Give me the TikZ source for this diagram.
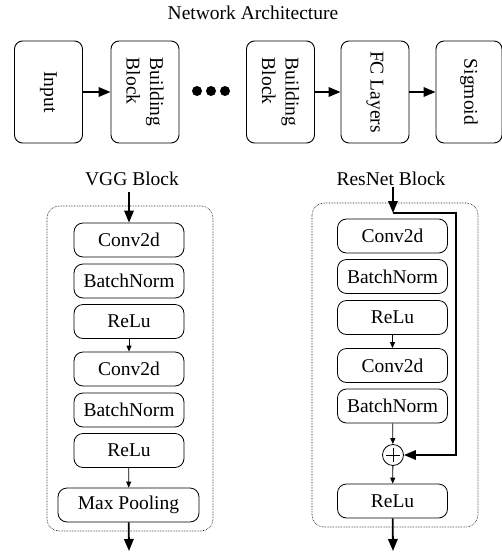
\documentclass[tikz,border=0pt]{standalone}
\usepackage{fontspec}
\setmainfont{Liberation Serif}
\usetikzlibrary{arrows.meta}
\begin{document}
\begin{tikzpicture}[x=1pt,y=-1pt,
  font=\fontsize{19.5}{23.5}\selectfont,
  topbox/.style={draw, line width=0.9pt, rounded corners=8pt, rotate=-90,
    minimum width=102pt, minimum height=68pt, inner sep=0pt, align=left},
  layer/.style={draw, line width=0.8pt, rounded corners=9pt,
    minimum width=110pt, minimum height=34pt, inner sep=0pt},
  outer/.style={draw, densely dotted, line width=0.6pt, rounded corners=12pt},
  thickarrow/.style={line width=1.8pt, -{Triangle[length=12pt,width=9.5pt]}},
  thinarrow/.style={line width=0.8pt, -{Triangle[length=6pt,width=5pt]}},
  dot/.style={circle, fill=black, minimum size=10pt, inner sep=0pt},
  title/.style={inner sep=0pt}
]
\useasboundingbox (0,0) rectangle (502,555);

% top row
\node[title] (na) at (253,13) {Network Architecture};
\node[topbox] (in) at (48.5,92) {Input};
\node[topbox] (bb1) at (145,92) {Building\\Block};
\node[dot] (d1) at (197,91) {};
\node[dot] (d2) at (211,91) {};
\node[dot] (d3) at (225,91) {};
\node[topbox] (bb2) at (280.5,92) {Building\\Block};
\node[topbox] (fc) at (375,92) {FC Layers};
\node[topbox, minimum height=66pt] (sg) at (469,92) {Sigmoid};
\draw[thickarrow] (in) -- (bb1);
\draw[thickarrow] (bb2) -- (fc);
\draw[thickarrow] (fc) -- (sg);

% VGG block
\node[title] (vt) at (132,179) {VGG Block};
\draw[outer] (47,206) rectangle (213,531);
\node[layer] (vc1) at (129,240) {Conv2d};
\node[layer] (vb1) at (129,281) {BatchNorm};
\node[layer] (vr1) at (129,321.5) {ReLu};
\node[layer] (vc2) at (129,369) {Conv2d};
\node[layer] (vb2) at (129,410) {BatchNorm};
\node[layer] (vr2) at (129,450.5) {ReLu};
\node[layer, minimum width=141pt] (vmp) at (128.5,505) {Max Pooling};
\coordinate (vin) at (129,192);
\coordinate (vout) at (129,551);
\draw[thickarrow] (vin) -- (vc1.north);
\draw[thinarrow] (vr1) -- (vc2);
\draw[thinarrow] (vr2) -- (vmp);
\draw[thickarrow] (vmp) -- (vout);

% ResNet block
\node[title] (rt) at (391,179) {ResNet Block};
\draw[outer] (312,203) rectangle (478,527);
\node[layer] (rc1) at (392.5,236) {Conv2d};
\node[layer] (rb1) at (392.5,276.5) {BatchNorm};
\node[layer] (rr1) at (392.5,317.5) {ReLu};
\node[layer] (rc2) at (392.5,365.5) {Conv2d};
\node[layer] (rb2) at (392.5,406) {BatchNorm};
\node[draw, circle, line width=0.8pt, minimum size=21pt, inner sep=0pt] (plus) at (393,455) {};
\draw[line width=0.8pt] ([yshift=-7pt]plus.center) -- ([yshift=7pt]plus.center)
  ([xshift=-7pt]plus.center) -- ([xshift=7pt]plus.center);
\node[layer] (rr2) at (392.5,501) {ReLu};
\coordinate (rin) at (393,187);
\coordinate (rj) at (393,213);
\coordinate (rc) at (456,213);
\coordinate (rd) at (456,455);
\coordinate (rout) at (393,551);
\draw[thickarrow] (rin) -- (rj);
\draw[thickarrow] (rj) -- (rc) -- (rd) -- (plus.east);
\draw[thinarrow] (rr1) -- (rc2);
\draw[thinarrow] (rb2) -- (plus);
\draw[thinarrow] (plus) -- (rr2);
\draw[thickarrow] (rr2) -- (rout);
\end{tikzpicture}
\end{document}
